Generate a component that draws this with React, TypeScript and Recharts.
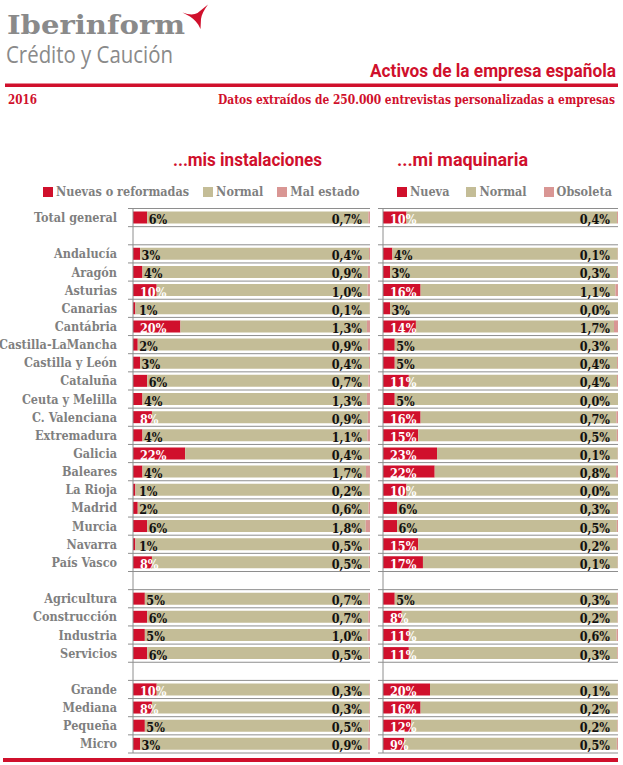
import React from 'react';
import { BarChart, Bar, XAxis, YAxis, CartesianGrid, LabelList, Legend } from 'recharts';

// ---------- data ----------
const categories = [
  'Total general', ' ', 'Andalucía', 'Aragón', 'Asturias', 'Canarias', 'Cantábria',
  'Castilla-LaMancha', 'Castilla y León', 'Cataluña', 'Ceuta y Melilla', 'C. Valenciana',
  'Extremadura', 'Galicia', 'Baleares', 'La Rioja', 'Madrid', 'Murcia', 'Navarra',
  'País Vasco', '  ', 'Agricultura', 'Construcción', 'Industria', 'Servicios', '   ',
  'Grande', 'Mediana', 'Pequeña', 'Micro',
];

const instalacionesNuevas = [6, null, 3, 4, 10, 1, 20, 2, 3, 6, 4, 8, 4, 22, 4, 1, 2, 6, 1, 8, null, 5, 6, 5, 6, null, 10, 8, 5, 3];
const instalacionesMalEstado = [0.7, null, 0.4, 0.9, 1.0, 0.1, 1.3, 0.9, 0.4, 0.7, 1.3, 0.9, 1.1, 0.4, 1.7, 0.2, 0.6, 1.8, 0.5, 0.5, null, 0.7, 0.7, 1.0, 0.5, null, 0.3, 0.3, 0.5, 0.9];

const maquinariaNueva = [10, null, 4, 3, 16, 3, 14, 5, 5, 11, 5, 16, 15, 23, 22, 10, 6, 6, 15, 17, null, 5, 8, 11, 11, null, 20, 16, 12, 9];
const maquinariaObsoleta = [0.4, null, 0.1, 0.3, 1.1, 0.0, 1.7, 0.3, 0.4, 0.4, 0.0, 0.7, 0.5, 0.1, 0.8, 0.0, 0.3, 0.5, 0.2, 0.1, null, 0.3, 0.2, 0.6, 0.3, null, 0.1, 0.2, 0.2, 0.5];

const instalacionesSeries = ['Nuevas o reformadas', 'Normal', 'Mal estado'];
const maquinariaSeries = ['Nueva', 'Normal', 'Obsoleta'];

// ---------- styles ----------
const RED = '#D0102C';
const TAN = '#C4BD97';
const PINK = '#D99694';
const GRID = '#8E8E8E';
const GRAY_TEXT = '#7F7F7F';
const SERIF = "'DejaVu Serif Condensed', 'DejaVu Serif', serif";
const SANS_COND = "'Liberation Sans Narrow', 'Roboto', 'Liberation Sans', sans-serif";

const CHART_H = 625;
const MARGIN_TOP = 68.5;
const MARGIN_BOTTOM = 12;
const PLOT_H = CHART_H - MARGIN_TOP - MARGIN_BOTTOM;
const BAND = PLOT_H / categories.length;

type Row = { cat: string; nueva: number | null; normal: number | null; mal: number | null };

function buildRows(nuevas: (number | null)[], malas: (number | null)[]): Row[] {
  return categories.map((cat, i) => {
    const n = nuevas[i];
    const m = malas[i];
    return {
      cat,
      nueva: n,
      normal: n == null || m == null ? null : 100 - n - m,
      mal: m,
    };
  });
}

const instalacionesRows = buildRows(instalacionesNuevas, instalacionesMalEstado);
const maquinariaRows = buildRows(maquinariaNueva, maquinariaObsoleta);

const boundaryLines = (props: any) => {
  const { offset } = props;
  const lines: number[] = [];
  for (let i = 0; i <= categories.length; i++) lines.push(offset.top + (i * offset.height) / categories.length);
  return lines;
};

const getBox = (props: any) => {
  const vb = props.viewBox && props.viewBox.width != null ? props.viewBox : props;
  return { x: Number(vb.x), y: Number(vb.y), width: Number(vb.width), height: Number(vb.height) };
};

const NewLabel = (props: any) => {
  const { value } = props;
  if (value == null) return null;
  const { x, y, width, height } = getBox(props);
  const light = value >= 8;
  const tx = light ? x + 7 : Math.max(x + width + 1.5, x + 6);
  return (
    <text x={tx} y={y + height + 0.5} fill={light ? '#FFFFFF' : '#111111'} fontSize={12.5} fontWeight="bold" fontFamily={SERIF}>
      {`${value}%`}
    </text>
  );
};

// value accessor giving [third-series value, normal value] for the label drawn on the "normal" segment
const badAndNormal = (d: Row) => (d.mal == null || d.normal == null ? null : [d.mal, d.normal]);

// Label of the third series, placed from the "normal" segment so that 0,0% values are shown too.
const BadLabel = (props: any) => {
  const { value } = props;
  if (!Array.isArray(value)) return null;
  const [mal, normal] = value as number[];
  const { x, y, width, height } = getBox(props);
  const pxPerUnit = width / normal;
  const right = x + width + mal * pxPerUnit;
  return (
    <text x={right - 8} y={y + height + 0.5} textAnchor="end" fill="#111111" fontSize={12.5} fontWeight="bold" fontFamily={SERIF}>
      {`${mal.toFixed(1).replace('.', ',')}%`}
    </text>
  );
};

const TICK_MARGIN = 16;

const CategoryTick = (props: any) => {
  const { x, y, payload, index } = props;
  const ax = x + TICK_MARGIN;
  return (
    <g>
      <line x1={ax - 5} x2={ax} y1={y - BAND / 2} y2={y - BAND / 2} stroke={GRID} strokeWidth={1} />
      {index === categories.length - 1 && (
        <line x1={ax - 5} x2={ax} y1={y + BAND / 2} y2={y + BAND / 2} stroke={GRID} strokeWidth={1} />
      )}
      <text x={x} y={y} dy={4.5} textAnchor="end" fill={GRAY_TEXT} fontSize={12.5} fontWeight="bold" fontFamily={SERIF}>
        {payload.value}
      </text>
    </g>
  );
};

const BareTick = (props: any) => {
  const { x, y, index } = props;
  return (
    <g>
      <line x1={x - 5} x2={x} y1={y - BAND / 2} y2={y - BAND / 2} stroke={GRID} strokeWidth={1} />
      {index === categories.length - 1 && (
        <line x1={x - 5} x2={x} y1={y + BAND / 2} y2={y + BAND / 2} stroke={GRID} strokeWidth={1} />
      )}
    </g>
  );
};

const makeLegend = (names: string[], gap: number) => (props: any) => {
  const items = [...(props.payload || [])].sort((a: any, b: any) => names.indexOf(a.value) - names.indexOf(b.value));
  return (
    <div style={{ display: 'flex', alignItems: 'center', whiteSpace: 'nowrap' }}>
      {items.map((p: any, i: number) => (
        <div key={i} style={{ display: 'flex', alignItems: 'center', marginRight: gap }}>
          <span style={{ display: 'inline-block', width: 10, height: 10, background: p.color, marginRight: 3 }} />
          <span style={{ fontFamily: SERIF, fontWeight: 'bold', fontSize: 12.5, color: GRAY_TEXT, lineHeight: '14px' }}>{p.value}</span>
        </div>
      ))}
    </div>
  );
};

function Panel(props: {
  rows: Row[];
  names: string[];
  width: number;
  axisWidth: number;
  rightMargin: number;
  showLabels: boolean;
  legendLeft: number;
  legendGap: number;
}) {
  const { rows, names, width, axisWidth, rightMargin, showLabels, legendLeft, legendGap } = props;
  return (
    <BarChart
      width={width}
      height={CHART_H}
      data={rows}
      layout="vertical"
      margin={{ top: MARGIN_TOP, right: rightMargin, bottom: MARGIN_BOTTOM, left: 0 }}
      barSize={12}
    >
      <CartesianGrid horizontal vertical={false} stroke={GRID} strokeWidth={1} horizontalCoordinatesGenerator={boundaryLines} />
      <XAxis type="number" domain={[0, 100]} allowDataOverflow hide />
      <YAxis
        type="category"
        dataKey="cat"
        width={axisWidth}
        interval={0}
        tickSize={0}
        tickMargin={showLabels ? TICK_MARGIN : 0}
        tickLine={false}
        axisLine={{ stroke: GRID, strokeWidth: 1 }}
        tick={showLabels ? <CategoryTick /> : <BareTick />}
      />
      <Legend
        layout="horizontal"
        verticalAlign="middle"
        align="center"
        wrapperStyle={{ top: 45, left: legendLeft, width: 'auto', height: 16 }}
        content={makeLegend(names, legendGap)}
      />
      <Bar dataKey="nueva" name={names[0]} stackId="s" fill={RED} isAnimationActive={false}>
        <LabelList dataKey="nueva" content={<NewLabel />} />
      </Bar>
      <Bar dataKey="normal" name={names[1]} stackId="s" fill={TAN} isAnimationActive={false}>
        <LabelList dataKey={badAndNormal as any} content={<BadLabel />} />
      </Bar>
      <Bar dataKey="mal" name={names[2]} stackId="s" fill={PINK} isAnimationActive={false} />
    </BarChart>
  );
}

export default function App() {
  return (
    <div style={{ position: 'absolute', left: 0, top: 0, width: 623, height: 765, background: '#FFFFFF', overflow: 'hidden' }}>
      <svg width={623} height={765} style={{ position: 'absolute', left: 0, top: 0 }}>
        <text x={7} y={34} fontFamily="'DejaVu Serif', serif" fontWeight="bold" fontSize={26} fill="#8A8A8A" textLength={178} lengthAdjust="spacingAndGlyphs">
          Iberinform
        </text>
        <path d="M182.5,12.5 C189,15 194,15 197.5,13 L208,4.5 C204,10 201.5,15 201,19 L200.5,29 C198,23 194,19 190,16.5 C187.5,15 185,13.8 182.5,12.5 Z" fill={RED} />
        <text x={6} y={63} fontFamily="'Open Sans', sans-serif" fontSize={23} fill="#8A8A8A" textLength={167} lengthAdjust="spacingAndGlyphs">
          Crédito y Caución
        </text>
        <text x={370} y={77} fontFamily={SANS_COND} fontWeight="bold" fontSize={17.5} fill={RED} textLength={246} lengthAdjust="spacingAndGlyphs">
          Activos de la empresa española
        </text>
        <rect x={5} y={83.5} width={613} height={3.5} fill={RED} />
        <text x={8} y={104} fontFamily={SERIF} fontWeight="bold" fontSize={12.5} fill={RED} textLength={29} lengthAdjust="spacingAndGlyphs">
          2016
        </text>
        <text x={218} y={104} fontFamily={SERIF} fontWeight="bold" fontSize={12} fill={RED} textLength={397} lengthAdjust="spacingAndGlyphs">
          Datos extraídos de 250.000 entrevistas personalizadas a empresas
        </text>
        <text x={173} y={166} fontFamily={SANS_COND} fontWeight="bold" fontSize={19} fill={RED} textLength={149} lengthAdjust="spacingAndGlyphs">
          ...mis instalaciones
        </text>
        <text x={397} y={166} fontFamily={SANS_COND} fontWeight="bold" fontSize={19} fill={RED} textLength={131} lengthAdjust="spacingAndGlyphs">
          ...mi maquinaria
        </text>
        <rect x={3} y={758} width={615} height={4} fill={RED} />
      </svg>
      <div style={{ position: 'absolute', left: 0, top: 140, width: 378, height: CHART_H }}>
        <Panel rows={instalacionesRows} names={instalacionesSeries} width={378} axisWidth={133} rightMargin={8} showLabels legendLeft={43} legendGap={14} />
      </div>
      <div style={{ position: 'absolute', left: 378, top: 140, width: 245, height: CHART_H }}>
        <Panel rows={maquinariaRows} names={maquinariaSeries} width={245} axisWidth={5} rightMargin={5} showLabels={false} legendLeft={19} legendGap={17} />
      </div>
    </div>
  );
}
